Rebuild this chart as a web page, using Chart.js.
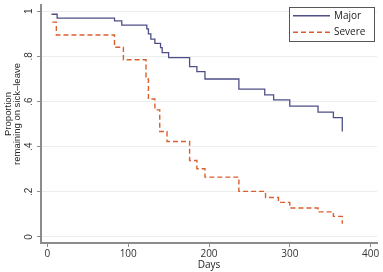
<!DOCTYPE html>
<html>
<head>
<meta charset="utf-8">
<script src="https://cdn.jsdelivr.net/npm/chart.js@4"></script>
<style>
  html, body { margin: 0; padding: 0; background: #fff; }
  #wrap { width: 383px; height: 272px; }
</style>
</head>
<body>
<div id="wrap"><canvas id="km"></canvas></div>
<script>
// Kaplan-Meier steps (day, proportion after the drop)
const majorDays = [5, 12, 83, 92, 123, 125, 128, 133, 140, 142, 150, 176, 185, 195, 237, 269, 280, 300, 335, 354, 365];
const majorSurv = [0.987, 0.970, 0.958, 0.939, 0.922, 0.900, 0.877, 0.858, 0.839, 0.817, 0.795, 0.755, 0.733, 0.700, 0.655, 0.630, 0.607, 0.580, 0.553, 0.529, 0.467];

const severeDays = [6, 11, 83, 94, 122, 125, 133, 139, 148, 176, 185, 195, 237, 270, 286, 300, 335, 354, 365];
const severeSurv = [0.952, 0.895, 0.841, 0.785, 0.700, 0.611, 0.563, 0.467, 0.423, 0.339, 0.302, 0.265, 0.202, 0.175, 0.153, 0.128, 0.111, 0.091, 0.058];

const xTicks = [0, 100, 200, 300, 400];
const yTicks = [0, 0.2, 0.4, 0.6, 0.8, 1];
const seriesNames = ["Major", "Severe"];

const majorColor = "#4e4f86";
const severeColor = "#d95f2e";

const toPoints = (days, surv) => days.map((d, i) => ({ x: d, y: surv[i] }));

// y tick labels are drawn rotated, like Stata
const yLabel = v => {
    if (v === 0) return "0";
    if (v === 1) return "1";
    return String(v).replace("0.", ".");
};

const extras = {
    id: "extras",
    afterDraw(chart) {
        const ctx = chart.ctx;
        const ys = chart.scales.y;
        ctx.save();
        ctx.fillStyle = "#333";
        ctx.font = "10px 'Liberation Sans', Arial, sans-serif";
        ctx.textAlign = "center";
        ctx.textBaseline = "middle";
        yTicks.forEach(v => {
            ctx.save();
            ctx.translate(29.5, ys.getPixelForValue(v));
            ctx.rotate(-Math.PI / 2);
            ctx.fillText(yLabel(v), 0, 0);
            ctx.restore();
        });

        // axis title, two lines
        ctx.font = "9.5px 'Liberation Sans', Arial, sans-serif";
        ctx.fillStyle = "#222";
        ctx.save();
        ctx.translate(8, 114);
        ctx.rotate(-Math.PI / 2);
        ctx.fillText("Proportion", 0, 0);
        ctx.fillText("remaining on sick\u2013leave", 0, 9.5);
        ctx.restore();

        // legend box
        ctx.fillStyle = "#fff";
        ctx.fillRect(289.5, 7.5, 85, 34);
        ctx.strokeStyle = "#555";
        ctx.lineWidth = 1;
        ctx.strokeRect(289.5, 7.5, 85, 34);
        const rows = [
            { y: 15.7, color: majorColor, dash: [] },
            { y: 32.3, color: severeColor, dash: [5, 3] }
        ];
        rows.forEach((r, i) => {
            ctx.beginPath();
            ctx.setLineDash(r.dash);
            ctx.strokeStyle = r.color;
            ctx.lineWidth = 1.4;
            ctx.moveTo(293, r.y);
            ctx.lineTo(330, r.y);
            ctx.stroke();
            ctx.setLineDash([]);
            ctx.fillStyle = "#222";
            ctx.font = "10px 'Open Sans', 'Liberation Sans', sans-serif";
            ctx.textAlign = "left";
            ctx.fillText(seriesNames[i], 334, r.y);
        });
        ctx.restore();
    }
};

new Chart(document.getElementById("km"), {
    type: "scatter",
    data: {
        datasets: [
            {
                label: seriesNames[0],
                data: toPoints(majorDays, majorSurv),
                showLine: true,
                stepped: "before",
                borderColor: majorColor,
                borderWidth: 1.3,
                pointRadius: 0
            },
            {
                label: seriesNames[1],
                data: toPoints(severeDays, severeSurv),
                showLine: true,
                stepped: "before",
                borderColor: severeColor,
                borderWidth: 1.4,
                borderDash: [5, 3],
                pointRadius: 0
            }
        ]
    },
    options: {
        responsive: true,
        maintainAspectRatio: false,
        animation: false,
        layout: { autoPadding: false, padding: { left: 0, top: 5, right: 6, bottom: 0 } },
        plugins: {
            legend: { display: false },
            tooltip: { enabled: false }
        },
        scales: {
            x: {
                type: "linear",
                min: -8,
                max: 408,
                afterBuildTicks: s => { s.ticks = xTicks.map(v => ({ value: v })); },
                afterFit: s => { s.height = 29; },
                border: { display: true, color: "#8c8c8c", width: 2 },
                grid: { drawOnChartArea: false, drawTicks: true, tickLength: 4, tickColor: "#8c8c8c" },
                ticks: {
                    padding: 1,
                    color: "#333",
                    font: { family: "'Open Sans', 'Liberation Sans', sans-serif", size: 10 },
                    maxRotation: 0
                },
                title: {
                    display: true,
                    text: "Days",
                    color: "#222",
                    font: { family: "'Open Sans', 'Liberation Sans', sans-serif", size: 10 },
                    padding: { top: 0, bottom: 1 }
                }
            },
            y: {
                type: "linear",
                min: -0.027,
                max: 1.028,
                afterBuildTicks: s => { s.ticks = yTicks.map(v => ({ value: v })); },
                afterFit: s => { s.width = 41; },
                border: { display: true, color: "#8c8c8c", width: 2 },
                grid: { color: "#ececec", lineWidth: 1, drawTicks: true, tickLength: 4, tickColor: "#8c8c8c" },
                ticks: { display: false }
            }
        }
    },
    plugins: [extras]
});
</script>
</body>
</html>
